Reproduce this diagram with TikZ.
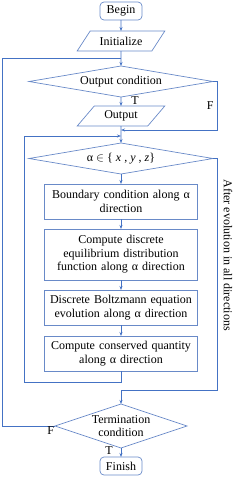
\documentclass[tikz,border=0pt]{standalone}
\usepackage{fontspec}
\setmainfont{Liberation Serif}
\usepackage{xcolor}
\usetikzlibrary{arrows.meta, positioning, calc, shapes.geometric}

\definecolor{flowline}{RGB}{68,114,196}
\definecolor{flowedge}{RGB}{105,138,200}

\begin{document}
\begin{tikzpicture}[
  x=1pt, y=-1pt,
  font=\fontsize{12}{13.5}\selectfont,
  every node/.append style={outer sep=0pt},
  startstop/.style={rectangle, draw=flowedge, line width=0.7pt, rounded corners=4pt, minimum width=42pt, minimum height=18pt, inner sep=1pt},
  io/.style={trapezium, trapezium left angle=48, trapezium right angle=132, trapezium stretches=true, draw=flowedge, line width=0.7pt, minimum width=88pt, minimum height=20pt, inner sep=1pt},
  decision/.style={diamond, draw=flowedge, line width=0.7pt, shape aspect=6, minimum width=184pt, minimum height=31pt, inner sep=0pt},
  process/.style={rectangle, draw=flowedge, line width=0.7pt, text width=147pt, align=center, minimum height=35pt, inner xsep=3pt, inner ysep=0pt},
  arrow/.style={-{Stealth[length=4pt, width=3pt]}, draw=flowline, line width=0.7pt},
  link/.style={draw=flowline, line width=0.7pt}
]
\useasboundingbox (0,0) rectangle (233,477);

\node[startstop] (begin) at (121,11) {Begin};
\node[io, below=11pt of begin] (init) {Initialize};
\node[decision, below=15pt of init] (outcond) {Output condition};
\node[io, below=9pt of outcond] (output) {Output};
\node[decision, below=17pt of output] (alpha) {α $\in$ \{ \textit{x} , \textit{y} , \textit{z}\}};
\node[process, below=10pt of alpha] (bound) {Boundary condition along α\\direction};
\node[process, minimum height=51pt, below=10pt of bound] (equil) {Compute discrete\\equilibrium distribution\\function along α direction};
\node[process, below=10pt of equil] (evol) {Discrete Boltzmann equation\\evolution along α direction};
\node[process, below=11pt of evol] (conserv) {Compute conserved quantity\\along α direction};
\node[decision, shape aspect=3, minimum width=132pt, minimum height=44pt, inner xsep=-6pt, inner ysep=-6pt, align=center, below=33pt of conserv] (termin) {Termination\\condition};
\node[startstop, below=9pt of termin] (finish) {Finish};
\node[rotate=-90] (after) at (228,255) {After evolution in all directions};

% junctions and loop lanes
\coordinate (j0) at ($(init.south)!0.5!(outcond.north)$);
\coordinate (j1) at ($(output.south)+(0,4)$);
\coordinate (j2) at ($(output.south)+(0,10)$);
\coordinate (inbot) at ($(conserv.south)+(0,11)$);
\coordinate (outbot) at ($(termin.north)+(0,-14)$);
\coordinate (lout) at (2,0);
\coordinate (lin) at (24,0);
\coordinate (rout) at (217,0);

\draw[arrow] (begin) -- (init);
\draw[arrow] (init) -- (outcond);
\draw[arrow] (outcond) -- node[right=7pt, pos=0.4]{T} (output);
\draw[arrow] (outcond.east) -| node[left, pos=0.75]{F} (rout |- j1) -- (j1);
\draw[arrow] (output) -- (alpha);
\draw[arrow] (alpha) -- (bound);
\draw[arrow] (bound) -- (equil);
\draw[arrow] (equil) -- (evol);
\draw[arrow] (evol) -- (conserv);
\draw[arrow] (conserv.south) -- (inbot) -| (lin |- j2) -- (j2);
\draw[arrow] (alpha.east) -| (rout |- outbot) -- (outbot) -- (termin);
\draw[arrow] (termin) -- node[left=5pt, pos=0.3]{T} (finish);
\draw[link] (termin.west) -- node[pos=0, below left, inner sep=1pt]{F} (lout |- termin.west) -- (lout |- j0) -- (j0);
\end{tikzpicture}
\end{document}
